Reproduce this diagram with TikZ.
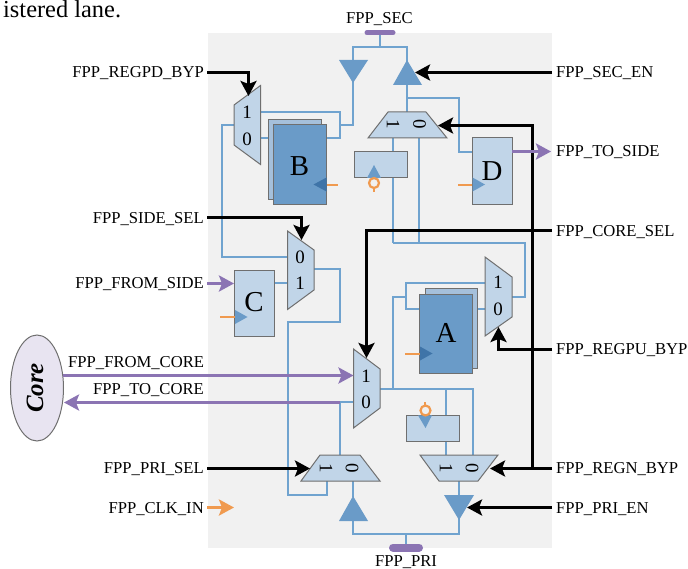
\documentclass[tikz,border=0pt]{standalone}
\usepackage{fontspec}
\setmainfont{Liberation Serif}
\usetikzlibrary{arrows.meta}
\definecolor{bgc}{HTML}{F1F1F1}
\definecolor{lite}{HTML}{C1D5E8}
\definecolor{midc}{HTML}{A5C0DB}
\definecolor{dark}{HTML}{6A9BC8}
\definecolor{deep}{HTML}{3F74A8}
\definecolor{wire}{HTML}{70A3CF}
\definecolor{purp}{HTML}{8B74B3}
\definecolor{oran}{HTML}{F09A4F}
\definecolor{edge}{HTML}{6F6F6F}
\definecolor{coref}{HTML}{E8E4F1}
\tikzset{
 x=1bp,y=-1bp,
 wirel/.style={draw=wire,line width=2.2bp},
 ctl/.style={draw=black,line width=2.8bp,-{Stealth[length=15bp,width=16bp,inset=3bp]}},
 ctlp/.style={draw=black,line width=2.8bp},
 purpa/.style={draw=purp,line width=2.8bp,-{Stealth[length=15bp,width=16bp,inset=3bp]}},
 orana/.style={draw=oran,line width=2.8bp,-{Stealth[length=15bp,width=16bp,inset=3bp]}},
 oranl/.style={draw=oran,line width=2.2bp},
 muxs/.style={fill=lite,draw=edge,line width=1bp},
 regl/.style={fill=lite,draw=edge,line width=1bp},
 regd/.style={fill=dark,draw=edge,line width=1bp},
 regb/.style={fill=midc,draw=edge,line width=1bp},
 tri/.style={fill=dark,draw=none},
 trid/.style={fill=deep,draw=none},
 lab/.style={font=\fontsize{16.7}{20}\selectfont,inner sep=0pt},
 digit/.style={font=\fontsize{19}{22}\selectfont,inner sep=0pt},
 big/.style={font=\fontsize{29}{32}\selectfont,inner sep=0pt},
 pad/.style={draw=purp,line cap=round},
}
\begin{document}
\begin{tikzpicture}
\useasboundingbox (0,0) rectangle (688,569);
\fill[bgc] (208,33) rectangle (552,548);
% named anchors
\coordinate (secbus) at (380,47);
\coordinate (pribus) at (406,534);
% wires
\draw[wirel] (380,33) -- (secbus);
\draw[wirel] (353,62) -- (353,47) -- (407,47) -- (407,62);
\draw[wirel] (353,80) -- (353,125) -- (340,125);
\draw[wirel] (407,85) -- (407,112);
\draw[wirel] (407,98) -- (459,98) -- (459,152) -- (472,152);
\draw[wirel] (260,112) -- (340,112) -- (340,138) -- (326,138);
\draw[wirel] (260,138) -- (273,138);
\draw[wirel] (234,125) -- (222,125) -- (222,257) -- (288,257);
\draw[wirel] (274,283) -- (288,283);
\draw[wirel] (314,269) -- (340,269) -- (340,322) -- (288,322) -- (288,495) -- (327,495) -- (327,481);
\draw[wirel] (393,138) -- (393,243);
\draw[wirel] (419,138) -- (419,243);
\draw[wirel] (393,243) -- (525,243) -- (525,297) -- (512,297);
\draw[wirel] (485,283) -- (406,283) -- (406,309) -- (420,309);
\draw[wirel] (472,309) -- (485,309);
\draw[wirel] (393,389) -- (393,297) -- (406,297);
\draw[wirel] (380,389) -- (473,389) -- (473,455);
\draw[wirel] (446,389) -- (446,455);
\draw[wirel] (354,402) -- (340,402) -- (340,455);
\draw[wirel] (459,481) -- (459,497);
\draw[wirel] (459,518) -- (459,534) -- (353,534) -- (353,520);
\draw[wirel] (353,497) -- (353,481);
\draw[wirel] (406,534) -- (406,546);
% pads
\draw[pad,line width=5bp] (367,32.7) -- (393,32.7);
\draw[pad,line width=8bp] (393,547.5) -- (419,547.5);
% triangles
\fill[tri] (339,60) -- (368,60) -- (353,83) -- cycle;
\fill[tri] (393,85) -- (422,85) -- (407,60) -- cycle;
\fill[tri] (339,521) -- (368,521) -- (353,496) -- cycle;
\fill[tri] (444,495) -- (474,495) -- (459,520) -- cycle;
% muxes
\draw[muxs] (234,105) -- (260.5,85.5) -- (260.5,164.5) -- (234,145) -- cycle;
\draw[muxs] (287.5,231) -- (314,250) -- (314,290) -- (287.5,309.5) -- cycle;
\draw[muxs] (353.5,349) -- (380,369) -- (380,408) -- (353.5,428) -- cycle;
\draw[muxs] (485,257) -- (512,277) -- (512,317) -- (485,336) -- cycle;
\draw[muxs] (388,112) -- (426,112) -- (447,138) -- (368,138) -- cycle;
\draw[muxs] (320,455) -- (360,455) -- (380,481) -- (301,481) -- cycle;
\draw[muxs] (420,455) -- (498,455) -- (478,481) -- (439,481) -- cycle;
% mux digits
\node[digit] (mb1) at (247,112) {1};
\node[digit] (mb0) at (247,139) {0};
\node[digit] (ms0) at (300,257) {0};
\node[digit] (ms1) at (300,283) {1};
\node[digit] (mc1) at (366,376) {1};
\node[digit] (mc0) at (366,402) {0};
\node[digit] (ma1) at (498,282) {1};
\node[digit] (ma0) at (498,309) {0};
\node[digit,rotate=-90] (mt1) at (393,124.5) {1};
\node[digit,rotate=-90] (mt0) at (419.5,124.5) {0};
\node[digit,rotate=-90] (ml1) at (326,468) {1};
\node[digit,rotate=-90] (ml0) at (352,468) {0};
\node[digit,rotate=-90] (mr1) at (446,468) {1};
\node[digit,rotate=-90] (mr0) at (472,468) {0};
% registers
\draw[regb] (268,119.5) rectangle (321,199);
\draw[regd] (273,125) rectangle (326.5,204);
\fill[trid] (326.5,177.5) -- (326.5,191.5) -- (313.5,184.5) -- cycle;
\draw[oranl] (327,185) -- (338,185);
\node[big] (B) at (299.5,166) {B};
\draw[regl] (472,138) rectangle (512,204);
\fill[tri] (472.5,177.5) -- (472.5,191.5) -- (485,184.5) -- cycle;
\draw[oranl] (458,185) -- (472,185);
\node[big] (D) at (492,171) {D};
\draw[regl] (234.5,270) rectangle (274.5,336.5);
\fill[tri] (235,310) -- (235,324) -- (247.5,317) -- cycle;
\draw[oranl] (220,317) -- (235,317);
\node[big] (C) at (254,302) {C};
\draw[regb] (425,288.5) rectangle (477.5,368);
\draw[regd] (419.5,294) rectangle (472.5,373.5);
\fill[trid] (420,346.5) -- (420,360.5) -- (432.5,353.5) -- cycle;
\draw[oranl] (405,354) -- (420,354);
\node[big] (A) at (446,333) {A};
\draw[regl] (354,151.5) rectangle (407,178);
\fill[tri] (367,178) -- (381,178) -- (374,165) -- cycle;
\draw[oran,line width=2.2bp] (374,183) circle (5);
\draw[oranl] (374,188) -- (374,192);
\draw[regl] (406,415.3) rectangle (459,441.7);
\fill[tri] (418,415.3) -- (432,415.3) -- (425.5,428) -- cycle;
\draw[oran,line width=2.2bp] (425.5,410.5) circle (5);
\draw[oranl] (425,405.5) -- (425,401.5);
% control arrows
\coordinate (regpdT) at (248.5,96);
\draw[ctl] (207,72.5) -- (248.5,72.5) -- (regpdT);
\coordinate (secenT) at (415,72.5);
\draw[ctl] (552,72.5) -- (secenT);
\coordinate (topT) at (438,125.5);
\draw[ctl] (532.5,125.5) -- (topT);
\draw[ctlp] (532.5,124.1) -- (532.5,468.5);
\coordinate (regnT) at (490,468.5);
\draw[ctl] (552,468.5) -- (regnT);
\coordinate (sideT) at (301.5,240);
\draw[ctl] (207,217.5) -- (301.5,217.5) -- (sideT);
\coordinate (coreT) at (366.5,358);
\draw[ctl] (552,230.5) -- (366.5,230.5) -- (coreT);
\coordinate (regpuT) at (498.5,327);
\draw[ctl] (552,349.5) -- (498.5,349.5) -- (regpuT);
\coordinate (priselT) at (310,468.5);
\draw[ctl] (207,468.5) -- (priselT);
\coordinate (prienT) at (467,507.5);
\draw[ctl] (552,507.5) -- (prienT);
% purple & orange arrows
\draw[purpa] (512,151.5) -- (551,151.5);
\draw[purpa] (207,283.5) -- (234,283.5);
\draw[orana] (207,507.5) -- (234,507.5);
% core
\draw[fill=coref,draw=edge,line width=1bp] (37,388) ellipse (26.5 and 53);
\node[rotate=90,font=\fontsize{25}{28}\selectfont\bfseries\itshape,inner sep=0pt] (core) at (35,388) {Core};
\draw[purpa] (63,375.5) -- (353.5,375.5);
\draw[purpa] (340,402.5) -- (64,402.5);
% labels
\node[lab,anchor=base] (lsec) at (379.5,24) {FPP\_SEC};
\node[lab,anchor=base] (lpri) at (406,566) {FPP\_PRI};
\node[lab,anchor=base east] (l1) at (204,78) {FPP\_REGPD\_BYP};
\node[lab,anchor=base east] (l2) at (204,223) {FPP\_SIDE\_SEL};
\node[lab,anchor=base east] (l3) at (204,288) {FPP\_FROM\_SIDE};
\node[lab,anchor=base west] (l4) at (68,367) {FPP\_FROM\_CORE};
\node[lab,anchor=base west] (l5) at (93,394) {FPP\_TO\_CORE};
\node[lab,anchor=base east] (l6) at (204,473) {FPP\_PRI\_SEL};
\node[lab,anchor=base east] (l7) at (204,513) {FPP\_CLK\_IN};
\node[lab,anchor=base west] (r1) at (556,78) {FPP\_SEC\_EN};
\node[lab,anchor=base west] (r2) at (556,157) {FPP\_TO\_SIDE};
\node[lab,anchor=base west] (r3) at (556,236) {FPP\_CORE\_SEL};
\node[lab,anchor=base west] (r4) at (556,354) {FPP\_REGPU\_BYP};
\node[lab,anchor=base west] (r5) at (556,473) {FPP\_REGN\_BYP};
\node[lab,anchor=base west] (r6) at (556,513) {FPP\_PRI\_EN};
\node[font=\fontsize{24.5}{28}\selectfont,inner sep=0pt,anchor=base west] (top) at (3,18) {istered lane.};
\end{tikzpicture}
\end{document}
